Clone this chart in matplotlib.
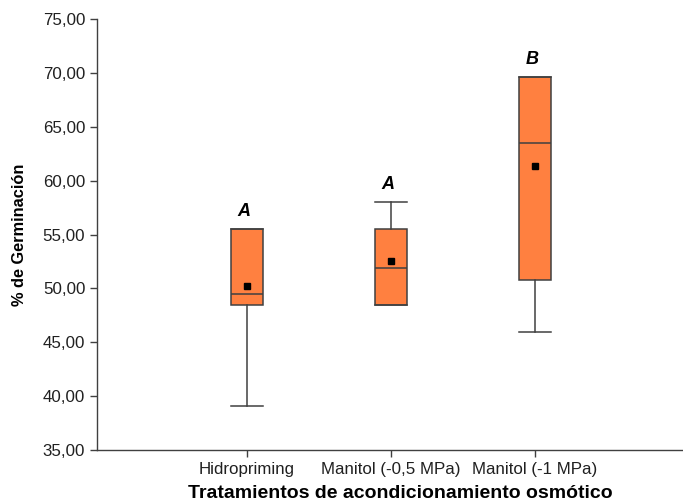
import matplotlib
matplotlib.use("Agg")
import matplotlib.pyplot as plt
from matplotlib.ticker import FuncFormatter

plt.rcParams['font.family'] = ['Liberation Sans', 'DejaVu Sans']

# datos
tratamientos = ["Hidropriming", "Manitol (-0,5 MPa)", "Manitol (-1 MPa)"]
q1 = [48.5, 48.5, 50.8]
mediana = [49.5, 51.9, 63.5]
q3 = [55.5, 55.5, 69.6]
bigote_inf = [39.1, 48.5, 46.0]
bigote_sup = [55.5, 58.0, 69.6]
media = [50.2, 52.55, 61.35]
letras = ["A", "A", "B"]

stats = []
for i, t in enumerate(tratamientos):
    stats.append(dict(label=t, q1=q1[i], med=mediana[i], q3=q3[i],
                      whislo=bigote_inf[i], whishi=bigote_sup[i],
                      mean=media[i], fliers=[]))

fig = plt.figure(figsize=(6.83, 5.04), dpi=100)
ax = fig.add_axes([0.142, 0.107, 0.858, 0.855])

pos = [1, 2, 3]
ec = "#404040"
ax.bxp(stats, positions=pos, widths=0.22, patch_artist=True, showmeans=True,
       boxprops=dict(facecolor="#FF8040", edgecolor=ec, linewidth=1.1),
       medianprops=dict(color=ec, linewidth=1.1),
       whiskerprops=dict(color=ec, linewidth=1.1),
       capprops=dict(color=ec, linewidth=1.1),
       capwidths=0.22,
       meanprops=dict(marker="s", markerfacecolor="black", markeredgecolor="black",
                      markersize=4.5))

for p, top, l in zip(pos, bigote_sup, letras):
    ax.text(p - 0.02, top + 0.9, l, ha="center", va="bottom", fontsize=13,
            fontweight="bold", fontstyle="italic")

ax.set_xlim(-0.04, 4.03)
ax.set_ylim(35, 75)
ax.set_yticks(range(35, 80, 5))
ax.yaxis.set_major_formatter(FuncFormatter(lambda v, _: f"{v:.2f}".replace(".", ",")))
ax.set_xticks(pos)
ax.set_xticklabels(tratamientos)

for s in ["top", "right"]:
    ax.spines[s].set_visible(False)
for s in ["left", "bottom"]:
    ax.spines[s].set_color(ec)
    ax.spines[s].set_linewidth(1.0)
ax.tick_params(colors=ec, labelcolor="#202020", labelsize=12.2, length=5, width=1.0)

ax.set_ylabel("% de Germinación", fontsize=11.8, fontweight="bold")
ax.yaxis.set_label_coords(-0.12, 0.5)
ax.set_xlabel("Tratamientos de acondicionamiento osmótico", fontsize=14,
              fontweight="bold")
ax.xaxis.set_label_coords(0.517, -0.082)

fig.savefig("out.png", dpi=100)
